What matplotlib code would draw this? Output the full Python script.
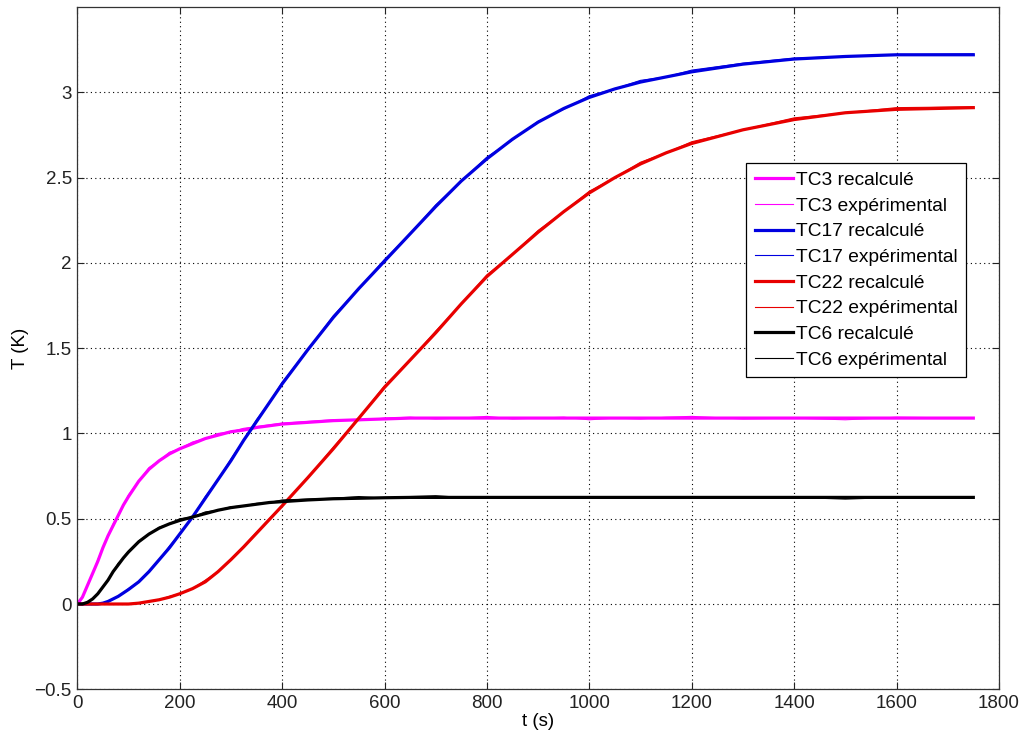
import matplotlib
matplotlib.use("Agg")
import matplotlib.pyplot as plt

plt.rcParams['font.family'] = ['Liberation Sans', 'DejaVu Sans']

# time samples (s)
t = [0, 10, 20, 30, 40, 50, 60, 70, 80, 90, 100, 120, 140, 160, 180, 200,
     225, 250, 275, 300, 325, 350, 375, 400, 450, 500, 550, 600, 650, 700,
     750, 800, 850, 900, 950, 1000, 1050, 1100, 1150, 1200, 1300, 1400, 1500,
     1600, 1750]

# recalculated temperatures (K)
tc3_rec = [0, 0.04, 0.11, 0.18, 0.25, 0.33, 0.40, 0.46, 0.52, 0.58, 0.63,
           0.72, 0.79, 0.84, 0.88, 0.91, 0.94, 0.97, 0.99, 1.01, 1.02, 1.035,
           1.045, 1.055, 1.065, 1.075, 1.08, 1.085, 1.09, 1.09, 1.09, 1.09,
           1.09, 1.09, 1.09, 1.09, 1.09, 1.09, 1.09, 1.09, 1.09, 1.09, 1.09,
           1.09, 1.09]
tc17_rec = [0, 0, 0, 0, 0, 0.005, 0.015, 0.03, 0.045, 0.065, 0.085, 0.13,
            0.19, 0.26, 0.33, 0.41, 0.51, 0.62, 0.73, 0.84, 0.96, 1.07, 1.18,
            1.29, 1.49, 1.68, 1.85, 2.01, 2.17, 2.33, 2.48, 2.61, 2.725, 2.825,
            2.905, 2.97, 3.02, 3.06, 3.09, 3.12, 3.165, 3.195, 3.21, 3.22, 3.22]
tc22_rec = [0, 0, 0, 0, 0, 0, 0, 0, 0, 0, 0, 0.005, 0.015, 0.025, 0.04, 0.06,
            0.09, 0.13, 0.19, 0.26, 0.335, 0.415, 0.495, 0.575, 0.74, 0.91,
            1.09, 1.27, 1.43, 1.59, 1.76, 1.92, 2.05, 2.18, 2.30, 2.41, 2.50,
            2.58, 2.645, 2.70, 2.78, 2.84, 2.88, 2.90, 2.91]
tc6_rec = [0, 0, 0.01, 0.03, 0.06, 0.10, 0.14, 0.19, 0.23, 0.27, 0.305, 0.365,
           0.41, 0.445, 0.47, 0.49, 0.51, 0.53, 0.55, 0.565, 0.575, 0.585,
           0.595, 0.60, 0.61, 0.617, 0.62, 0.623, 0.625, 0.625, 0.625, 0.625,
           0.625, 0.625, 0.625, 0.625, 0.625, 0.625, 0.625, 0.625, 0.625,
           0.625, 0.625, 0.625, 0.625]

# measured temperatures (K)
tc3_exp = [0, 0.04, 0.11, 0.18, 0.26, 0.33, 0.40, 0.47, 0.52, 0.58, 0.64,
           0.72, 0.80, 0.84, 0.89, 0.91, 0.95, 0.97, 1.00, 1.01, 1.03, 1.04,
           1.05, 1.06, 1.07, 1.08, 1.075, 1.09, 1.095, 1.085, 1.09, 1.10,
           1.085, 1.09, 1.095, 1.08, 1.09, 1.085, 1.095, 1.10, 1.085, 1.09,
           1.08, 1.095, 1.09]
tc17_exp = [0, 0, 0, 0, 0, 0.005, 0.015, 0.03, 0.045, 0.065, 0.09, 0.13,
            0.19, 0.26, 0.34, 0.41, 0.51, 0.63, 0.73, 0.85, 0.96, 1.08, 1.18,
            1.30, 1.49, 1.69, 1.85, 2.02, 2.17, 2.34, 2.48, 2.62, 2.72, 2.83,
            2.90, 2.98, 3.02, 3.07, 3.09, 3.13, 3.17, 3.20, 3.21, 3.22, 3.225]
tc22_exp = [0, 0, 0, 0, 0, 0, 0, 0, 0, 0, 0, 0.005, 0.015, 0.025, 0.045,
            0.06, 0.09, 0.14, 0.19, 0.26, 0.34, 0.42, 0.50, 0.58, 0.74, 0.92,
            1.09, 1.28, 1.43, 1.60, 1.76, 1.93, 2.05, 2.19, 2.30, 2.42, 2.50,
            2.59, 2.645, 2.71, 2.78, 2.85, 2.88, 2.91, 2.915]
tc6_exp = [0, 0, 0.01, 0.03, 0.06, 0.10, 0.14, 0.19, 0.24, 0.27, 0.31, 0.37,
           0.41, 0.45, 0.47, 0.50, 0.51, 0.54, 0.55, 0.57, 0.575, 0.59, 0.595,
           0.61, 0.615, 0.62, 0.63, 0.62, 0.63, 0.635, 0.625, 0.63, 0.62,
           0.625, 0.63, 0.62, 0.625, 0.63, 0.62, 0.625, 0.62, 0.625, 0.615,
           0.625, 0.625]

x_ticks = [0, 200, 400, 600, 800, 1000, 1200, 1400, 1600, 1800]
y_ticks = [-0.5, 0, 0.5, 1, 1.5, 2, 2.5, 3]

series = [
    ("TC3", tc3_rec, tc3_exp, "#ff00ff"),
    ("TC17", tc17_rec, tc17_exp, "#0000e0"),
    ("TC22", tc22_rec, tc22_exp, "#e80000"),
    ("TC6", tc6_rec, tc6_exp, "#000000"),
]

fig = plt.figure(figsize=(10.24, 7.38), dpi=100)
ax = fig.add_axes([0.0755, 0.066, 0.900, 0.9245])

for name, rec, exp, col in series:
    ax.plot(t, rec, color=col, lw=2.3, label=name + " recalculé")
    ax.plot(t, exp, color=col, lw=0.8, label=name + " expérimental")

ax.set_xlim(0, 1800)
ax.set_ylim(-0.5, 3.5)
ax.set_xticks(x_ticks)
ax.set_yticks(y_ticks)
ax.set_yticklabels(["\u22120.5", "0", "0.5", "1", "1.5", "2", "2.5", "3"])
ax.tick_params(direction="in", length=5, width=0.8, top=True, right=True,
               labelsize=13.5, colors="#222222", pad=4)
ax.grid(True, color="black", linestyle=(0, (1, 3)), lw=0.8)
for sp in ax.spines.values():
    sp.set_linewidth(0.9)
    sp.set_color("#333333")

ax.set_xlabel("t (s)", fontsize=13.5, labelpad=1)
ax.set_ylabel("T (K)", fontsize=13.5, labelpad=4)

leg = ax.legend(loc="upper left", bbox_to_anchor=(746 / 1024, 1 - 163 / 738),
                bbox_transform=fig.transFigure, borderaxespad=0,
                fontsize=13.8, handlelength=2.0, handletextpad=0.15,
                labelspacing=0.43, borderpad=0.45, fancybox=False,
                framealpha=1, edgecolor="black")
leg.get_frame().set_linewidth(0.9)

fig.savefig("out.png", dpi=100)
